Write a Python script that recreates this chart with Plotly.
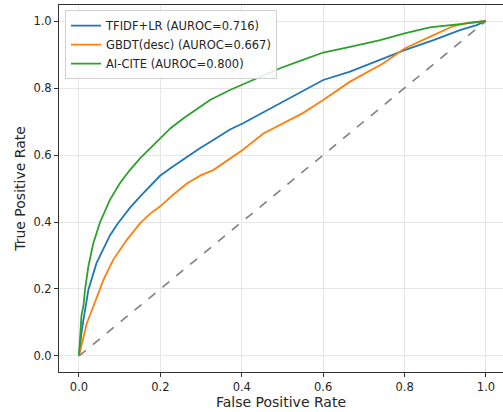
import plotly.graph_objects as go

tfidf_fpr = [0, 0.003, 0.006, 0.01, 0.015, 0.023, 0.043, 0.06, 0.076, 0.095, 0.109, 0.125, 0.15, 0.175, 0.199,
             0.23, 0.26, 0.297, 0.33, 0.371, 0.402, 0.45, 0.494, 0.55, 0.60, 0.666, 0.748, 0.80, 0.871, 0.936, 0.977, 1.0]
tfidf_tpr = [0, 0.04, 0.068, 0.10, 0.137, 0.197, 0.277, 0.32, 0.36, 0.395, 0.418, 0.442, 0.476, 0.508, 0.538,
             0.565, 0.59, 0.62, 0.645, 0.676, 0.694, 0.725, 0.754, 0.79, 0.824, 0.849, 0.889, 0.913, 0.943, 0.973, 0.988, 1.0]

gbdt_fpr = [0, 0.006, 0.011, 0.019, 0.035, 0.06, 0.084, 0.117, 0.15, 0.175, 0.199, 0.23, 0.265, 0.30, 0.33,
            0.371, 0.402, 0.453, 0.494, 0.55, 0.60, 0.666, 0.748, 0.80, 0.871, 0.92, 0.96, 1.0]
gbdt_tpr = [0, 0.028, 0.06, 0.097, 0.147, 0.227, 0.287, 0.346, 0.396, 0.425, 0.446, 0.48, 0.515, 0.54, 0.555,
            0.59, 0.615, 0.664, 0.69, 0.725, 0.764, 0.819, 0.874, 0.918, 0.958, 0.985, 0.995, 1.0]

aicite_fpr = [0, 0.003, 0.006, 0.011, 0.015, 0.023, 0.035, 0.052, 0.076, 0.10, 0.125, 0.15, 0.175, 0.199, 0.225,
              0.256, 0.29, 0.322, 0.371, 0.40, 0.45, 0.494, 0.55, 0.60, 0.666, 0.74, 0.80, 0.862, 0.936, 1.0]
aicite_tpr = [0, 0.08, 0.12, 0.15, 0.20, 0.267, 0.336, 0.40, 0.466, 0.515, 0.555, 0.59, 0.62, 0.65, 0.68,
              0.709, 0.737, 0.764, 0.794, 0.809, 0.835, 0.859, 0.884, 0.906, 0.923, 0.943, 0.963, 0.981, 0.991, 1.0]

names = ["TFIDF+LR (AUROC=0.716)", "GBDT(desc) (AUROC=0.667)", "AI-CITE (AUROC=0.800)"]
colors = ["#1f77b4", "#ff7f0e", "#2ca02c"]
chance = [0, 1]
ticks = [0.0, 0.2, 0.4, 0.6, 0.8, 1.0]

fig = go.Figure()
for fx, ty, nm, c in [(tfidf_fpr, tfidf_tpr, names[0], colors[0]),
                      (gbdt_fpr, gbdt_tpr, names[1], colors[1]),
                      (aicite_fpr, aicite_tpr, names[2], colors[2])]:
    fig.add_trace(go.Scatter(x=fx, y=ty, mode="lines", name=nm,
                             line=dict(color=c, width=1.8)))
fig.add_trace(go.Scatter(x=chance, y=chance, mode="lines", showlegend=False,
                         line=dict(color="#808080", width=1.6, dash="dash")))

font = dict(family="DejaVu Sans", size=11.5, color="#262626")
fig.update_layout(
    width=503, height=412,
    margin=dict(l=59, r=0, t=5, b=40, autoexpand=False),
    paper_bgcolor="white", plot_bgcolor="white",
    font=font,
    legend=dict(x=0.0135, y=0.986, xanchor="left", yanchor="top",
                bgcolor="rgba(255,255,255,0.85)", bordercolor="#d0d0d0", borderwidth=1,
                font=dict(family="DejaVu Sans", size=11.5, color="#262626"),
                tracegroupgap=0, itemwidth=30),
    xaxis=dict(range=[-0.0491, 1.0418], tickvals=ticks, tickformat=".1f", automargin=False,
               showgrid=True, gridcolor="#e6e6e6", gridwidth=1, zeroline=False,
               showline=True, linecolor="#333333", linewidth=1, mirror=True,
               ticks="outside", ticklen=4, tickcolor="#333333",
               title=dict(text="False Positive Rate", standoff=2)),
    yaxis=dict(range=[-0.0478, 1.0478], tickvals=ticks, tickformat=".1f", automargin=False,
               showgrid=True, gridcolor="#e6e6e6", gridwidth=1, zeroline=False,
               showline=True, linecolor="#333333", linewidth=1,
               ticks="outside", ticklen=4, tickcolor="#333333",
               title=dict(text="True Positive Rate", standoff=4)),
)
fig.write_html("out.html", config={"displayModeBar": False},
               post_script="document.body.style.margin='0';document.body.style.overflow='hidden';")
